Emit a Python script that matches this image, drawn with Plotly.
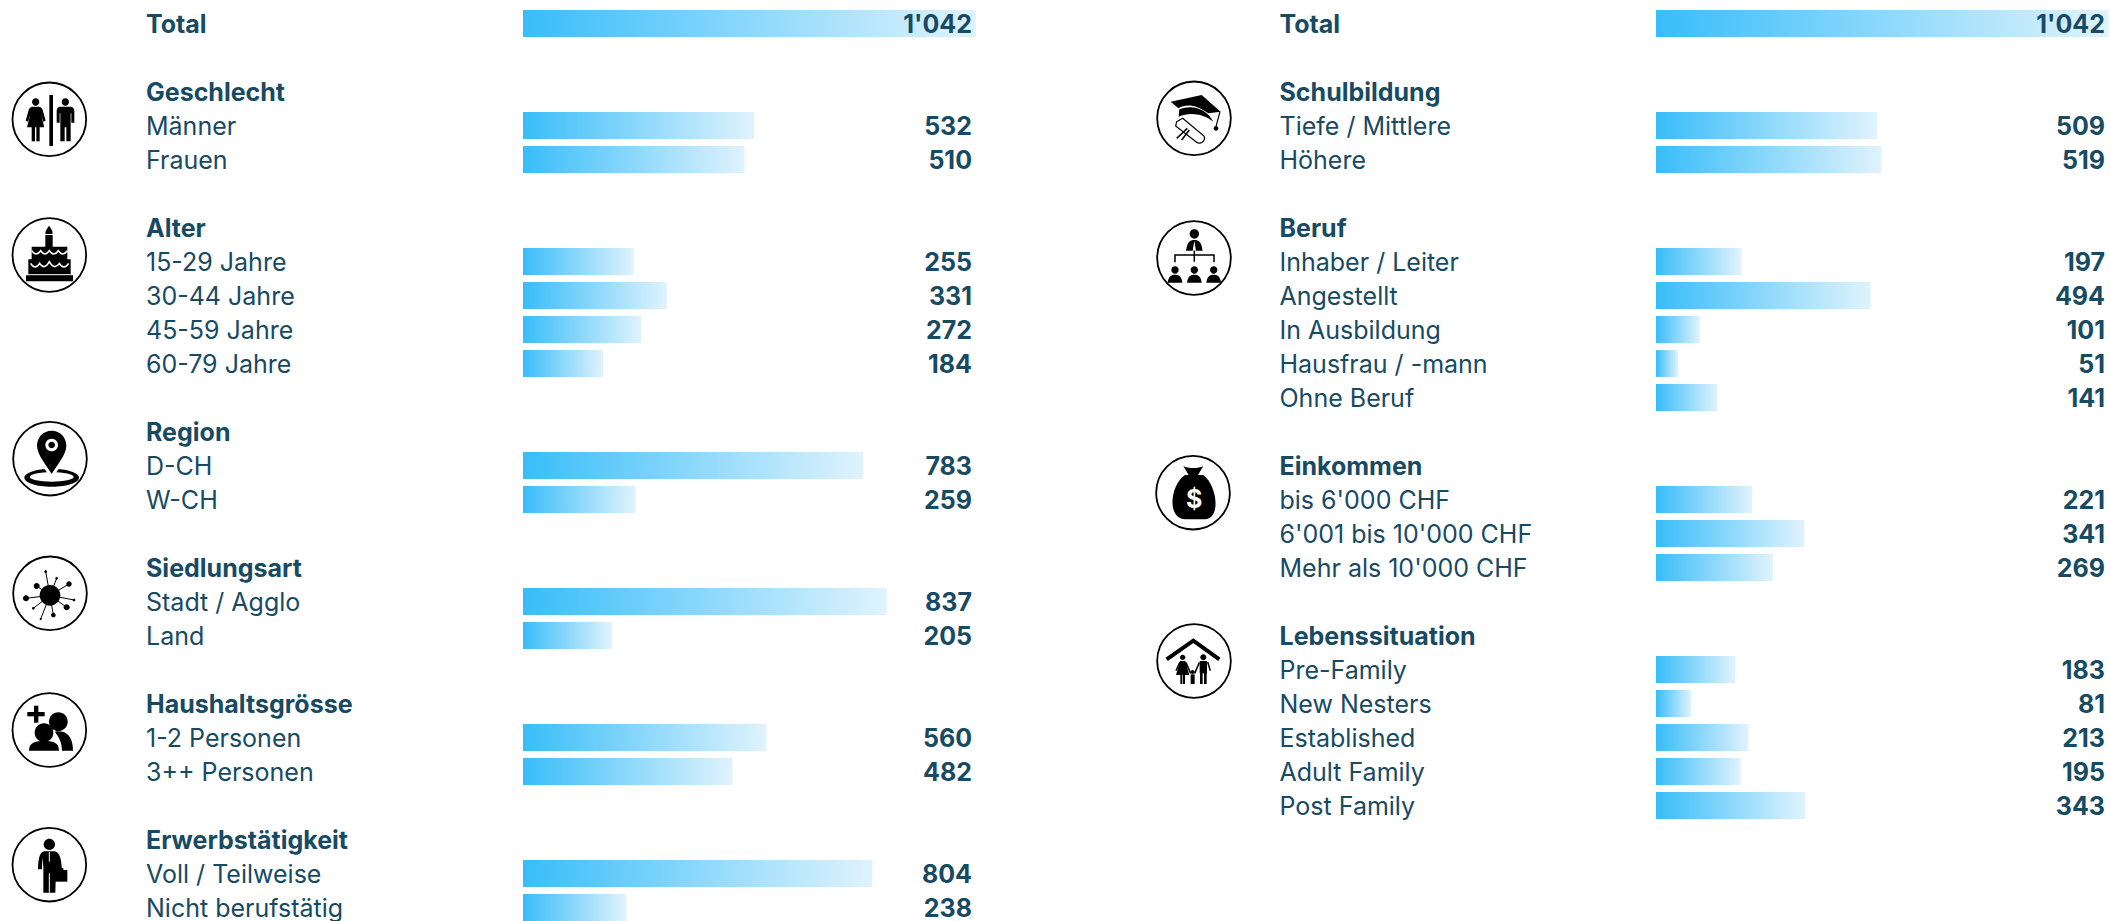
import re
import plotly.graph_objects as go

# ---------- data ----------
total_label = "Total"
total_value = 1042

geschlecht_labels = ["Männer", "Frauen"]
geschlecht_values = [532, 510]
alter_labels = ["15-29 Jahre", "30-44 Jahre", "45-59 Jahre", "60-79 Jahre"]
alter_values = [255, 331, 272, 184]
region_labels = ["D-CH", "W-CH"]
region_values = [783, 259]
siedlung_labels = ["Stadt / Agglo", "Land"]
siedlung_values = [837, 205]
haushalt_labels = ["1-2 Personen", "3++ Personen"]
haushalt_values = [560, 482]
erwerb_labels = ["Voll / Teilweise", "Nicht berufstätig"]
erwerb_values = [804, 238]

schule_labels = ["Tiefe / Mittlere", "Höhere"]
schule_values = [509, 519]
beruf_labels = ["Inhaber / Leiter", "Angestellt", "In Ausbildung", "Hausfrau / -mann", "Ohne Beruf"]
beruf_values = [197, 494, 101, 51, 141]
einkommen_labels = ["bis 6'000 CHF", "6'001 bis 10'000 CHF", "Mehr als 10'000 CHF"]
einkommen_values = [221, 341, 269]
leben_labels = ["Pre-Family", "New Nesters", "Established", "Adult Family", "Post Family"]
leben_values = [183, 81, 213, 195, 343]

left_groups = [
    ("Geschlecht", geschlecht_labels, geschlecht_values),
    ("Alter", alter_labels, alter_values),
    ("Region", region_labels, region_values),
    ("Siedlungsart", siedlung_labels, siedlung_values),
    ("Haushaltsgrösse", haushalt_labels, haushalt_values),
    ("Erwerbstätigkeit", erwerb_labels, erwerb_values),
]
right_groups = [
    ("Schulbildung", schule_labels, schule_values),
    ("Beruf", beruf_labels, beruf_values),
    ("Einkommen", einkommen_labels, einkommen_values),
    ("Lebenssituation", leben_labels, leben_values),
]

# ---------- layout constants ----------
W, H = 2110, 921
ROW_PX, ROW0_PX = 34.0, 23.5
PX_PER_UNIT = 0.4345
BAR_HALF = 0.395
TEXT_DY = 0.09
FONT = "Inter"
TEXT = "#174A63"
FS = 25
GRAD = [[0, "#38BDF9"], [1, "#E0F3FD"]]
panels = [
    dict(x="x", dom=(0, 0.5), bar_px=523, label_px=146, value_px=972, groups=left_groups),
    dict(x="x2", dom=(0.5, 1), bar_px=1656, label_px=1279.5, value_px=2105, groups=right_groups),
]


def fmt(v):
    return f"{v:,}".replace(",", "'")


fig = go.Figure()
for p in panels:
    d0, d1 = p["dom"][0] * W, p["dom"][1] * W
    p["range"] = [(d0 - p["bar_px"]) / PX_PER_UNIT, (d1 - p["bar_px"]) / PX_PER_UNIT]
    to_x = lambda px, p=p: (px - p["bar_px"]) / PX_PER_UNIT

    rows = [(total_label, True, total_value, 0)]
    r = 2
    for title, labels, values in p["groups"]:
        rows.append((title, True, None, r))
        r += 1
        for lab, val in zip(labels, values):
            rows.append((lab, False, val, r))
            r += 1
        r += 1

    for lab, bold, val, row in rows:
        if val is None:
            continue
        fig.add_trace(go.Scatter(
            x=[0, val, val, 0, 0],
            y=[row - BAR_HALF, row - BAR_HALF, row + BAR_HALF, row + BAR_HALF, row - BAR_HALF],
            mode="lines", line=dict(width=0), fill="toself",
            fillgradient=dict(type="horizontal", colorscale=GRAD),
            xaxis=p["x"], yaxis="y", showlegend=False, name=lab, hoverinfo="name+text",
            text=fmt(val),
        ))
    fig.add_trace(go.Scatter(
        x=[to_x(p["label_px"])] * len(rows),
        y=[q[3] + TEXT_DY for q in rows],
        text=[f"<b>{q[0]}</b>" if q[1] else q[0] for q in rows],
        mode="text", textposition="middle right",
        textfont=dict(family=FONT, size=FS, color=TEXT),
        xaxis=p["x"], yaxis="y", showlegend=False, hoverinfo="skip",
    ))
    vr = [q for q in rows if q[2] is not None]
    fig.add_trace(go.Scatter(
        x=[to_x(p["value_px"])] * len(vr),
        y=[q[3] + TEXT_DY for q in vr],
        text=[f"<b>{fmt(q[2])}</b>" for q in vr],
        mode="text", textposition="middle left",
        textfont=dict(family=FONT, size=FS, color=TEXT),
        xaxis=p["x"], yaxis="y", showlegend=False, hoverinfo="skip",
    ))


# ---------- icons (decorative; drawn in crop coordinates, 3 units = 1 px) ----------
def circ(cx, cy, rx, ry=None):
    ry = rx if ry is None else ry
    k = 0.5523
    return (f"M{cx-rx},{cy} C{cx-rx},{cy-k*ry} {cx-k*rx},{cy-ry} {cx},{cy-ry} "
            f"C{cx+k*rx},{cy-ry} {cx+rx},{cy-k*ry} {cx+rx},{cy} "
            f"C{cx+rx},{cy+k*ry} {cx+k*rx},{cy+ry} {cx},{cy+ry} "
            f"C{cx-k*rx},{cy+ry} {cx-rx},{cy+k*ry} {cx-rx},{cy} Z")


def rect(x0, y0, x1, y1):
    return f"M{x0},{y0} L{x1},{y0} L{x1},{y1} L{x0},{y1} Z"


shapes = []


def to_paper(path, ox, oy):
    out, idx = [], 0
    for tok in re.findall(r"[A-Z]|-?\d+\.?\d*", path):
        if tok.isalpha():
            out.append(tok)
            idx = 0
        else:
            v = float(tok)
            if idx % 2 == 0:
                out.append(f"{(ox + v / 3) / W:.5f}")
            else:
                out.append(f"{1 - (oy + v / 3) / H:.5f}")
            idx += 1
    s = ""
    cnt = 0
    for t in out:
        if t.isalpha():
            s += " " + t
            cnt = 0
        else:
            s += (" " if cnt % 2 == 0 else ",") + t
            cnt += 1
    return s.strip()


def add(path, off, fill="black", stroke=None, w=0):
    shapes.append(dict(
        type="path", xref="paper", yref="paper", path=to_paper(path, *off),
        fillcolor=fill if fill else "rgba(0,0,0,0)",
        line=dict(color=stroke or "rgba(0,0,0,0)", width=w), layer="above",
    ))


def ring(cx, cy, off):
    add(circ(cx, cy, 110.5), off, fill=None, stroke="black", w=1.8)


# Gender
o = (0, 0)
ring(148, 358, o)
add(rect(148, 285, 159, 438), o)
add(circ(107, 306, 11), o)
add("M98,320 L116,320 C122,320 126,324 128,330 L137,362 L130,365 L122,340 L133,382 L81,382 L92,340 L84,365 L77,362 L86,330 C88,324 92,320 98,320 Z", o)
add(rect(95, 380, 105, 424), o)
add(rect(109, 380, 119, 424), o)
add(circ(196, 306, 11), o)
add("M180,320 L212,320 C219,320 223,325 223,332 L223,368 L214,368 L214,340 L212,340 L212,424 L199,424 L199,382 L194,382 L194,424 L181,424 L181,340 L179,340 L179,368 L170,368 L170,332 C170,325 174,320 180,320 Z", o)

# Cake
o = (0, 0)
ring(148, 765, o)
add(rect(136, 705, 158, 745), o)
add("M147,677 C155,688 160,695 157,702 L137,702 C134,695 140,688 147,677 Z", o)
add(rect(95, 740, 202, 790), o)
add(rect(85, 778, 212, 828), o)
add(rect(78, 826, 219, 844), o)
add("M95,752 Q108,772 122,752 Q135,772 148,752 Q161,772 175,752 Q188,772 202,752", o, fill=None, stroke="white", w=1.6)
add("M92,790 Q105,812 119,790 Q133,812 148,785 Q163,812 178,790 Q192,812 206,790", o, fill=None, stroke="white", w=1.6)
add("M84,824 L212,824", o, fill=None, stroke="white", w=1)

# Pin
o = (0, 400)
ring(150, 176, o)
add(circ(155, 233, 82, 27), o)
add(circ(155, 231, 66, 14), o, fill="white")
add("M155,82 C125,82 101,105 101,137 C101,170 135,205 155,238 C175,205 209,170 209,137 C209,105 185,82 155,82 Z", o, fill="white")
add("M155,92 C130,92 111,112 111,137 C111,165 140,195 155,222 C170,195 199,165 199,137 C199,112 180,92 155,92 Z", o)
add(circ(155, 135, 19), o, fill="white")
add(circ(155, 135, 10), o)

# Virus
o = (0, 400)
ring(150, 580, o)
for x, y, r_ in [(137, 515, 4), (170, 535, 4), (207, 552, 8), (222, 600, 4), (200, 622, 9),
                 (160, 645, 7), (122, 657, 3), (100, 625, 4), (78, 595, 9), (110, 558, 9)]:
    add(f"M150,586 L{x},{y}", o, fill=None, stroke="black", w=1)
    add(circ(x, y, r_), o)
add(circ(150, 586, 31), o)

# Household
o = (0, 400)
ring(148, 990, o)
add(rect(82, 936, 134, 949), o)
add(rect(102, 917, 115, 968), o)
add(circ(175, 965, 28), o)
add("M165,995 C195,990 219,1005 219,1052 L186,1052 C186,1025 175,1010 165,995 Z", o)
add(circ(132, 998, 28), o)
add("M87,1052 C87,1025 110,1023 132,1023 C155,1023 177,1025 177,1052 Z", o)

# Worker
o = (0, 400)
ring(148, 1394, o)
add(circ(148, 1333, 17), o)
add("M132,1354 L164,1354 C178,1358 183,1370 186,1408 L168,1408 L166,1478 L130,1478 L130,1400 L126,1372 L126,1408 L114,1408 C115,1370 120,1358 132,1354 Z", o)
add("M148,1420 L148,1478", o, fill=None, stroke="white", w=1)
add("M148,1356 L148,1385", o, fill=None, stroke="white", w=1)
add(rect(155, 1410, 202, 1445), o)
add(rect(166, 1404, 190, 1411), o)

# Graduate
o = (1130, 60)
ring(192, 175, o)
add("M122,125 L215,105 L272,155 L235,160 C200,135 170,130 145,145 Z", o)
add("M148,148 C190,132 230,148 250,185 C220,162 180,155 146,170 Z", o)
add("M270,155 L258,200", o, fill=None, stroke="black", w=1.2)
add(circ(258, 205, 7), o)
add("M140,185 L158,175 L222,228 C228,245 210,255 198,245 L137,198 Z", o, fill="white", stroke="black", w=1.2)
add("M140,235 L172,205 M155,240 L178,210", o, fill=None, stroke="black", w=1.5)

# Org chart
o = (1130, 60)
ring(192, 594, o)
add(circ(193, 522, 14), o)
add("M168,572 C172,545 180,540 193,540 C206,540 214,545 218,572 Z", o)
add("M193,542 L188,572 L198,572 Z", o, fill="white")
add("M193,572 L193,605 M135,607 L135,585 L252,585 L252,607", o, fill=None, stroke="black", w=1.5)
for cx_ in (135, 193, 251):
    add(circ(cx_, 630, 11), o)
    add(f"M{cx_-22},668 C{cx_-20},648 {cx_-10},644 {cx_},644 C{cx_+10},644 {cx_+20},648 {cx_+22},668 Z", o)

# Money
o = (1130, 430)
ring(189, 188, o)
add("M165,135 C120,165 110,265 165,268 L225,268 C275,265 260,165 220,135 Z", o)
add("M160,108 C175,116 205,116 220,108 L204,135 L176,135 Z", o)

# House / family
o = (1130, 430)
ring(192, 693, o)
add("M110,688 L190,632 L268,688", o, fill=None, stroke="black", w=4)
add(circ(158, 682, 8), o)
add("M150,693 L166,693 L178,735 L138,735 Z", o)
add(rect(151, 733, 157, 762), o)
add(rect(159, 733, 165, 762), o)
add(circ(220, 682, 9), o)
add(rect(209, 693, 231, 730), o)
add(rect(210, 728, 218, 762), o)
add(rect(222, 728, 230, 762), o)
add("M233,696 L241,722", o, fill=None, stroke="black", w=1.5)
add("M150,696 L138,722", o, fill=None, stroke="black", w=1.5)
add("M168,698 L182,730 M208,698 L194,730", o, fill=None, stroke="black", w=1.5)
add(circ(188, 726, 6), o)
add(rect(182, 733, 194, 762), o)

annotations = [dict(
    text="<b>$</b>", xref="paper", yref="paper", x=(1130 + 192 / 3) / W, y=1 - (430 + 208 / 3) / H,
    showarrow=False, font=dict(family=FONT, size=25, color="white"), xanchor="center", yanchor="middle",
)]

axis = dict(visible=False, showgrid=False, zeroline=False, fixedrange=True)
fig.update_layout(
    width=W, height=H, margin=dict(l=0, r=0, t=0, b=0, pad=0),
    paper_bgcolor="white", plot_bgcolor="white", showlegend=False,
    xaxis=dict(axis, domain=list(panels[0]["dom"]), range=panels[0]["range"]),
    xaxis2=dict(axis, domain=list(panels[1]["dom"]), range=panels[1]["range"]),
    yaxis=dict(axis, range=[(H - ROW0_PX) / ROW_PX, -ROW0_PX / ROW_PX]),
    shapes=shapes, annotations=annotations,
)
fig.write_html("out.html", config={"displayModeBar": False},
               post_script="document.body.style.margin='0';document.body.style.overflow='hidden';")
